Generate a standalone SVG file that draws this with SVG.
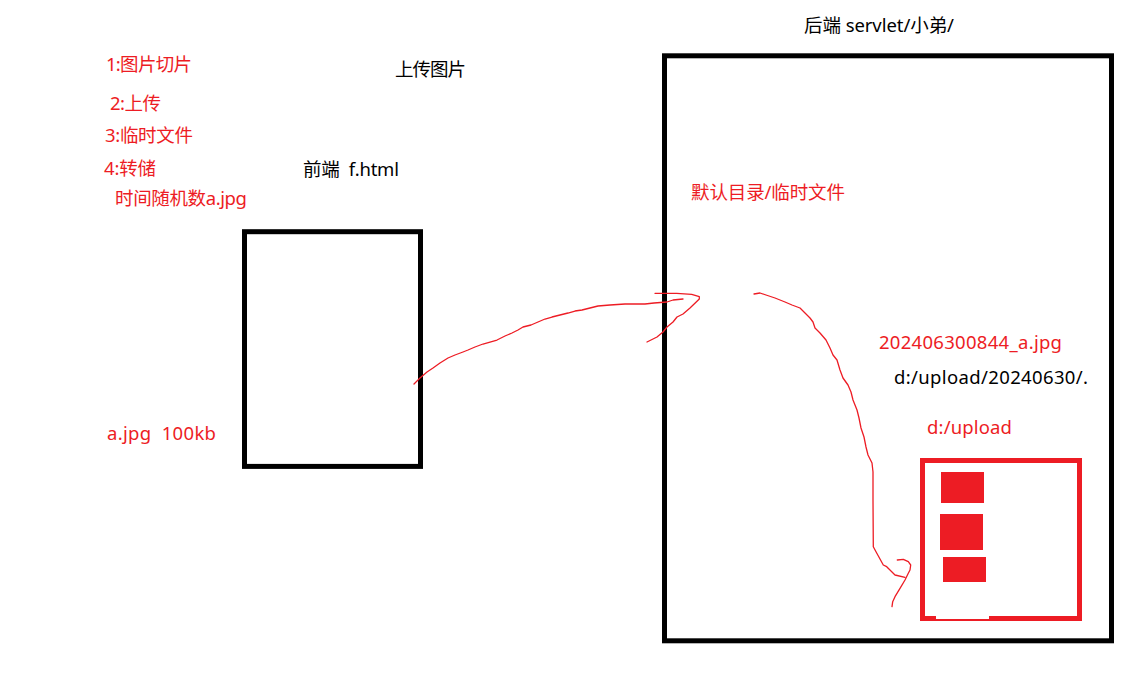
<svg xmlns="http://www.w3.org/2000/svg" width="1141" height="679" viewBox="0 0 1141 679">
<style>
text{font-family:"Noto Sans","Noto Sans CJK SC",sans-serif;font-size:18.5px;white-space:pre}
.r{fill:#ED1C24}
.k{fill:#000}
.box{fill:none;stroke:#000;stroke-width:5}
.ink{fill:none;stroke:#ED1C24;stroke-width:1.3;stroke-linejoin:round;stroke-linecap:round}
</style>
<rect width="1141" height="679" fill="#fff"/>
<g id="notes">
<text class="r" x="106" y="71" textLength="86">1:图片切片</text>
<text class="r" x="110" y="110" textLength="51">2:上传</text>
<text class="r" x="105" y="142" textLength="88">3:临时文件</text>
<text class="r" x="104" y="175" textLength="52">4:转储</text>
<text class="r" x="115" y="205" textLength="132">时间随机数a.jpg</text>
<text class="r" x="107" y="440" textLength="109" xml:space="preserve">a.jpg  100kb</text>
<text class="k" x="395" y="76" textLength="71">上传图片</text>
</g>
<g id="frontend">
<rect class="box" x="244.5" y="231.7" width="176" height="234.7"/>
<text class="k" x="303" y="176" textLength="96" xml:space="preserve">前端  f.html</text>
</g>
<g id="backend">
<rect class="box" x="664.5" y="55.8" width="447" height="585"/>
<text class="k" x="804" y="32" textLength="150">后端 servlet/小弟/</text>
<text class="r" x="691" y="199" textLength="154">默认目录/临时文件</text>
<text class="r" x="879" y="349" textLength="183">202406300844_a.jpg</text>
<text class="k" x="894" y="384" textLength="194">d:/upload/20240630/.</text>
</g>
<g id="upload">
<text class="r" x="927" y="434" textLength="85">d:/upload</text>
<rect x="922.5" y="460.5" width="157" height="158" fill="none" stroke="#ED1C24" stroke-width="5"/>
<rect x="936" y="616" width="53" height="3" fill="#fff"/>
<rect class="r" x="941" y="472" width="43" height="31"/>
<rect class="r" x="940" y="514" width="43" height="36"/>
<rect class="r" x="943" y="557" width="43" height="25"/>
</g>
<g id="connectors">
<path class="ink" d="M414,384 L420,378 L427,372 L433,368 L440,363 L448,358 L455,355 L463,352 L468,350 L475,347 L483,344 L490,342 L497,340 L505,336 L512,333 L518,330 L523,327 L531,325 L538,322 L545,319 L552,317 L560,315 L568,313 L575,311 L582,310 L590,308 L598,306 L610,305 L625,304 L645,304 L654,303 L667,302 L673,300 L683,299"/>
<path class="ink" d="M655,293.3 L676.7,293.3 L691.7,294.3 L699.3,296.7 L699.3,299 L690,308 L683,314 L677,317 L673,322 L667,327 L663,332 L657,337 L647,342"/>
<path class="ink" d="M754,294 L760,293 L766,295 L775,298 L785,302 L792,305 L800,308 L805,313 L810,318 L813,322 L815,328 L820,333 L826,340 L830,348 L833,355 L837,360 L840,370 L843,378 L848,385 L851,392 L853,400 L857,410 L859,418 L861,428 L864,437 L866,447 L868,455 L872,463 L873,472 L873,500 L873.3,546.7 L876,551.7 L883.3,565 L886.7,566.7 L895,575 L905,577.3"/>
<path class="ink" d="M897.3,560 L903.3,559.3 L908.3,561.7 L910.7,565 L910,570 L908.3,573.3 L905,580 L900,588.3 L895,596.7 L892.7,601.7 L892,606.7"/>
</g>
</svg>
